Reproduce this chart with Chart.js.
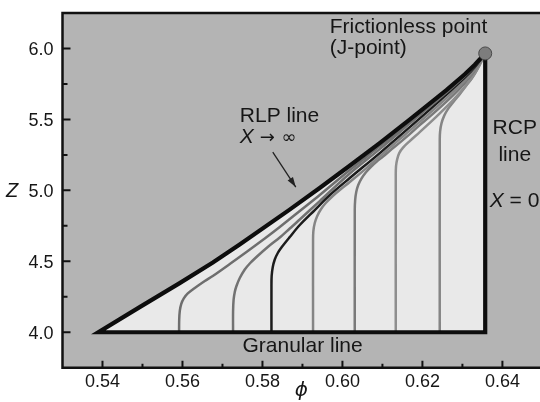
<!DOCTYPE html>
<html>
<head>
<meta charset="utf-8">
<script src="https://cdn.jsdelivr.net/npm/chart.js@4/dist/chart.umd.min.js"></script>
<style>
  html, body { margin: 0; padding: 0; background: #fff; }
  canvas { display: block; }
</style>
</head>
<body>
<canvas id="chart" width="540" height="402"></canvas>
<script>
// ticks
let xTicks = [0.54, 0.56, 0.58, 0.60, 0.62, 0.64];
let xTickLabels = ["0.54", "0.56", "0.58", "0.60", "0.62", "0.64"];
let xMinorTicks = [0.55, 0.57, 0.59, 0.61, 0.63];
let yTicks = [4.0, 4.5, 5.0, 5.5, 6.0];
let yTickLabels = ["4.0", "4.5", "5.0", "5.5", "6.0"];
let yMinorTicks = [4.25, 4.75, 5.25, 5.75];

// RLP line (X -> infinity)
let rlpPhi = [0.5390, 0.5493, 0.5593, 0.5676, 0.5743, 0.5868, 0.5943, 0.6018, 0.6093, 0.6168, 0.6260, 0.6306, 0.6331, 0.6357];
let rlpZ = [4.000, 4.177, 4.346, 4.492, 4.618, 4.864, 5.016, 5.173, 5.333, 5.498, 5.707, 5.818, 5.885, 5.965];

// granular line and RCP line (X = 0)
let granPhi = [0.6357, 0.5390];
let granZ = [4.0, 4.0];
let rcpPhi = [0.6357, 0.6357];
let rcpZ = [5.965, 4.0];

// J-point
let jPhi = [0.6357];
let jZ = [5.965];

// curves of constant friction
let c1Phi = [0.55915, 0.55918, 0.55933, 0.5597, 0.56033, 0.56133, 0.56308, 0.56558, 0.56758, 0.57183, 0.576, 0.58058, 0.58433, 0.58933, 0.59433, 0.60183, 0.60933, 0.61683, 0.62183, 0.626, 0.63058, 0.63308, 0.6357];
let c1Z = [4.0, 4.0866, 4.15, 4.1993, 4.238, 4.2732, 4.312, 4.3613, 4.3965, 4.481, 4.5655, 4.6606, 4.7415, 4.8542, 4.9669, 5.143, 5.312, 5.4838, 5.6007, 5.6972, 5.8106, 5.8796, 5.965];

let c2Phi = [0.57265, 0.57265, 0.57278, 0.57308, 0.5735, 0.57433, 0.57558, 0.57683, 0.5785, 0.58133, 0.58433, 0.58683, 0.58933, 0.59433, 0.60183, 0.60933, 0.61683, 0.62183, 0.626, 0.63058, 0.63308, 0.6357];
let c2Z = [4.0, 4.143, 4.2275, 4.2838, 4.3261, 4.3824, 4.4423, 4.4845, 4.5303, 4.6007, 4.6676, 4.731, 4.7944, 4.9246, 5.1183, 5.2908, 5.4704, 5.5901, 5.6887, 5.805, 5.8754, 5.965];

let c3Phi = [0.58225, 0.58225, 0.5823, 0.58258, 0.58308, 0.58383, 0.58483, 0.58683, 0.58933, 0.59308, 0.59683, 0.60183, 0.60933, 0.61683, 0.62183, 0.626, 0.63058, 0.63308, 0.6357];
let c3Z = [4.0, 4.3261, 4.3965, 4.4599, 4.5127, 4.5585, 4.6007, 4.6711, 4.7556, 4.8613, 4.9669, 5.0866, 5.2627, 5.4458, 5.569, 5.6746, 5.7944, 5.8683, 5.965];

let c4Phi = [0.59265, 0.59265, 0.59273, 0.59308, 0.5937, 0.59458, 0.59583, 0.59758, 0.59933, 0.60183, 0.606, 0.61015, 0.61433, 0.61683, 0.62183, 0.626, 0.63058, 0.63308, 0.6357];
let c4Z = [4.0, 4.65, 4.7134, 4.7697, 4.819, 4.8648, 4.9106, 4.9599, 5.0021, 5.0585, 5.157, 5.2592, 5.3613, 5.4211, 5.5444, 5.65, 5.7732, 5.8507, 5.965];

let c5Phi = [0.60308, 0.60308, 0.60318, 0.60345, 0.60395, 0.60475, 0.60583, 0.60708, 0.60858, 0.61015, 0.61233, 0.61433, 0.61683, 0.61933, 0.62183, 0.626, 0.62933, 0.63183, 0.63383, 0.6357];
let c5Z = [4.0, 4.8613, 4.9317, 4.988, 5.0373, 5.0831, 5.1254, 5.1641, 5.2028, 5.238, 5.2908, 5.3366, 5.3965, 5.4599, 5.5197, 5.6254, 5.7169, 5.7979, 5.8754, 5.965];

let c6Phi = [0.61333, 0.61333, 0.6134, 0.6137, 0.6142, 0.61515, 0.61683, 0.61933, 0.6235, 0.62765, 0.63058, 0.63233, 0.63408, 0.6357];
let c6Z = [4.0, 5.1077, 5.1711, 5.2204, 5.2627, 5.3014, 5.3472, 5.4106, 5.5197, 5.6359, 5.7275, 5.7908, 5.8718, 5.965];

let c7Phi = [0.62433, 0.62433, 0.62443, 0.62478, 0.62545, 0.62645, 0.6277, 0.62933, 0.63083, 0.63233, 0.63383, 0.6357];
let c7Z = [4.0, 5.3542, 5.4176, 5.474, 5.5268, 5.5761, 5.6218, 5.6782, 5.7345, 5.7873, 5.8577, 5.965];

let curveColors = ["#6e6e6e", "#727272", "#1c1c1c", "#858585", "#7a7a7a", "#8e8e8e", "#858585"];

// text labels, placed in data units
let notes = [
    {text: "Frictionless point", phi: 0.59683, z: 6.1056, align: "left"},
    {text: "(J-point)", phi: 0.59683, z: 5.960, align: "left"},
    {text: "RLP line", phi: 0.57433, z: 5.483, align: "left"},
    {text: "RCP", phi: 0.64308, z: 5.394, align: "center"},
    {text: "line", phi: 0.64308, z: 5.206, align: "center"},
    {text: "Granular line", phi: 0.5750, z: 3.861, align: "left"}
];

function toPoints(xs, ys) {
    let pts = [];
    for (let i = 0; i < xs.length; i++) {
        pts.push({x: xs[i], y: ys[i]});
    }
    return pts;
}

let font = '"Liberation Sans", Arial, sans-serif';

// background of plot area
let background = {
    id: "background",
    beforeDraw(chart) {
        let c = chart.ctx;
        let a = chart.chartArea;
        c.save();
        c.fillStyle = "#ffffff";
        c.fillRect(0, 0, chart.width, chart.height);
        c.fillStyle = "#b4b4b4";
        c.fillRect(a.left, a.top, a.right - a.left, a.bottom - a.top);
        c.restore();
    }
};

// axes, inward ticks, tick labels, annotations
let decorations = {
    id: "decorations",
    afterDraw(chart) {
        let c = chart.ctx;
        let a = chart.chartArea;
        let xs = chart.scales.x;
        let ys = chart.scales.y;
        c.save();

        c.strokeStyle = "#111";
        c.lineWidth = 2.5;
        c.beginPath();
        c.moveTo(a.right + 3, a.top);
        c.lineTo(a.left, a.top);
        c.lineTo(a.left, a.bottom);
        c.lineTo(a.right + 3, a.bottom);
        c.stroke();

        c.lineWidth = 2;
        c.beginPath();
        for (let v of xTicks) {
            let p = xs.getPixelForValue(v);
            c.moveTo(p, a.bottom);
            c.lineTo(p, a.bottom - 7);
        }
        for (let v of xMinorTicks) {
            let p = xs.getPixelForValue(v);
            c.moveTo(p, a.bottom);
            c.lineTo(p, a.bottom - 4);
        }
        for (let v of yTicks) {
            let p = ys.getPixelForValue(v);
            c.moveTo(a.left, p);
            c.lineTo(a.left + 8, p);
        }
        for (let v of yMinorTicks) {
            let p = ys.getPixelForValue(v);
            c.moveTo(a.left, p);
            c.lineTo(a.left + 5, p);
        }
        c.stroke();

        c.fillStyle = "#161616";
        c.font = "18px " + font;
        c.textBaseline = "alphabetic";
        c.textAlign = "center";
        for (let i = 0; i < xTicks.length; i++) {
            c.fillText(xTickLabels[i], xs.getPixelForValue(xTicks[i]), a.bottom + 19);
        }
        c.textAlign = "right";
        for (let i = 0; i < yTicks.length; i++) {
            c.fillText(yTickLabels[i], a.left - 9, ys.getPixelForValue(yTicks[i]) + 6.4);
        }

        // axis titles
        c.font = "italic 20px " + font;
        c.textAlign = "left";
        c.fillText("Z", 6, ys.getPixelForValue(5.0) + 6.4);
        c.font = 'italic 20px "DejaVu Sans", sans-serif';
        c.textAlign = "center";
        c.fillText("\u03D5", (a.left + a.right) / 2, 396);

        // annotations
        c.font = "21px " + font;
        for (let n of notes) {
            c.textAlign = n.align;
            c.fillText(n.text, xs.getPixelForValue(n.phi), ys.getPixelForValue(n.z));
        }

        // X -> infinity
        c.textAlign = "left";
        let xx = xs.getPixelForValue(0.57433);
        let xy = ys.getPixelForValue(5.331);
        c.font = "italic 21px " + font;
        c.fillText("X", xx, xy);
        c.font = '18px "DejaVu Sans", sans-serif';
        c.textBaseline = "middle";
        c.fillText("\u2192", xs.getPixelForValue(0.57933), xy - 5);
        c.fillText("\u221E", xs.getPixelForValue(0.58475), xy - 5);
        c.textBaseline = "alphabetic";

        // X = 0
        let ex = xs.getPixelForValue(0.63682);
        let ey = ys.getPixelForValue(4.880);
        c.font = "italic 21px " + font;
        c.fillText("X", ex, ey);
        let w = c.measureText("X").width;
        c.font = "21px " + font;
        c.fillText(" = 0", ex + w, ey);

        // arrow to RLP line
        let ax0 = xs.getPixelForValue(0.58258), ay0 = ys.getPixelForValue(5.2697);
        let ax1 = xs.getPixelForValue(0.58833), ay1 = ys.getPixelForValue(5.0232);
        c.strokeStyle = "#222";
        c.lineWidth = 1.3;
        c.beginPath();
        c.moveTo(ax0, ay0);
        c.lineTo(ax1, ay1);
        c.stroke();
        let ang = Math.atan2(ay1 - ay0, ax1 - ax0);
        c.fillStyle = "#222";
        c.beginPath();
        c.moveTo(ax1, ay1);
        c.lineTo(ax1 - 10 * Math.cos(ang) + 3.2 * Math.sin(ang), ay1 - 10 * Math.sin(ang) - 3.2 * Math.cos(ang));
        c.lineTo(ax1 - 10 * Math.cos(ang) - 3.2 * Math.sin(ang), ay1 - 10 * Math.sin(ang) + 3.2 * Math.cos(ang));
        c.closePath();
        c.fill();

        c.restore();
    }
};

let ctx = document.getElementById("chart").getContext("2d");

let datasets = [];

// triangle fill under RLP line down to Z = 4
datasets.push({
    data: toPoints(rlpPhi, rlpZ),
    showLine: true,
    fill: {value: 4},
    backgroundColor: "#e9e9e9",
    borderColor: "rgba(0,0,0,0)",
    borderWidth: 0,
    pointRadius: 0,
    order: 10
});

let curvePhi = [c1Phi, c2Phi, c3Phi, c4Phi, c5Phi, c6Phi, c7Phi];
let curveZ = [c1Z, c2Z, c3Z, c4Z, c5Z, c6Z, c7Z];
for (let i = 0; i < curvePhi.length; i++) {
    datasets.push({
        data: toPoints(curvePhi[i], curveZ[i]),
        showLine: true,
        fill: false,
        borderColor: curveColors[i],
        borderWidth: 2.5,
        pointRadius: 0,
        tension: 0.3,
        order: 5
    });
}

// outline: granular line, RLP line, RCP line
let outline = toPoints(granPhi, granZ)
    .concat(toPoints(rlpPhi, rlpZ).slice(1))
    .concat(toPoints(rcpPhi, rcpZ).slice(1));
datasets.push({
    data: outline,
    showLine: true,
    fill: false,
    borderColor: "#0d0d0d",
    borderWidth: 4.2,
    borderJoinStyle: "miter",
    borderCapStyle: "square",
    pointRadius: 0,
    tension: 0,
    order: 2
});

// J-point
datasets.push({
    data: toPoints(jPhi, jZ),
    showLine: false,
    pointRadius: 6.5,
    pointBackgroundColor: "#7d7d7d",
    pointBorderColor: "#4a4a4a",
    pointBorderWidth: 1,
    order: 0
});

let chart = new Chart(ctx, {
    type: "scatter",
    data: {datasets: datasets},
    options: {
        responsive: false,
        animation: false,
        events: [],
        layout: {autoPadding: false, padding: {left: 62.5, top: 13, right: 0, bottom: 34.3}},
        scales: {
            x: {type: "linear", min: 0.53, max: 0.6494, display: false},
            y: {type: "linear", min: 3.75, max: 6.25, display: false}
        },
        plugins: {
            legend: {display: false},
            tooltip: {enabled: false}
        }
    },
    plugins: [background, decorations]
});
</script>
</body>
</html>
